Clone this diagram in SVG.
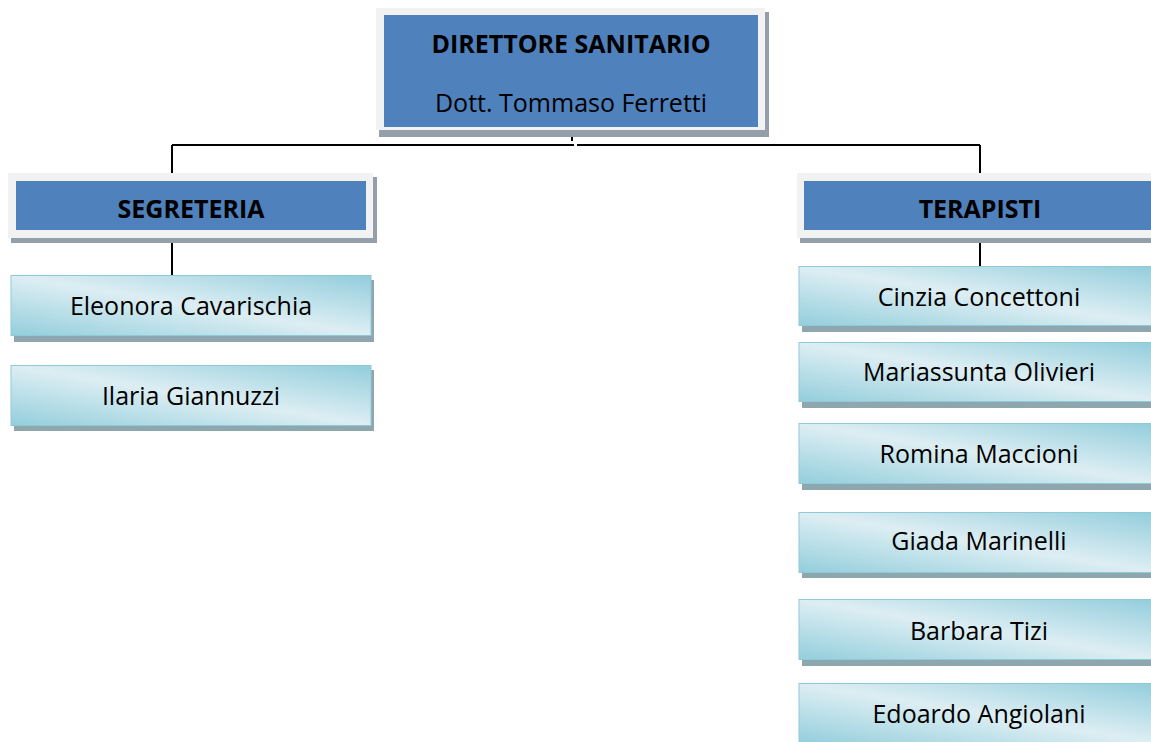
<svg xmlns="http://www.w3.org/2000/svg" width="1151" height="742" viewBox="0 0 1151 742">
<defs>
<linearGradient id="lg" x1="0" y1="1" x2="1" y2="0" gradientUnits="objectBoundingBox">
<stop offset="0" stop-color="#93cedc"/>
<stop offset="0.5" stop-color="#ddeef3"/>
<stop offset="1" stop-color="#92cddc"/>
</linearGradient>
</defs>
<style>
.frame{fill:#f2f2f2}
.hshadow{fill:#959fab}
.blue{fill:#4f81bd}
.lshadow{fill:#8ea6ae}
.lbox{fill:url(#lg);stroke:#8fcad9;stroke-width:1}
.t{font-family:"Open Sans","Noto Sans","Liberation Sans",sans-serif;font-size:25px;fill:#000;text-anchor:middle}
.b{font-weight:bold}
.conn{stroke:#000;stroke-width:2;fill:none}
</style>
<rect width="1151" height="742" fill="#fff"/>
<g id="connectors">
<path class="conn" d="M172 145 H574 M577 145 H980"/>
<path class="conn" d="M572 131 V141"/>
<path class="conn" d="M172 145 V173"/>
<path class="conn" d="M980 145 V173"/>
<path class="conn" d="M172 238 V276"/>
<path class="conn" d="M980 238 V266"/>
</g>
<g id="direttore">
<rect class="hshadow" x="379" y="12" width="390" height="125"/>
<rect class="frame" x="376" y="8" width="389" height="122"/>
<rect class="blue" x="384" y="15" width="374" height="112"/>
<text class="t b" x="571" y="53">DIRETTORE SANITARIO</text>
<text class="t" x="571" y="112">Dott. Tommaso Ferretti</text>
</g>
<g id="segreteria">
<rect class="hshadow" x="11" y="177" width="366" height="66"/>
<rect class="frame" x="8" y="173" width="365" height="65"/>
<rect class="blue" x="16" y="181" width="350" height="49"/>
<text class="t b" x="191" y="218">SEGRETERIA</text>
</g>
<g id="terapisti">
<rect class="hshadow" x="800" y="177" width="360" height="66"/>
<rect class="frame" x="797" y="173" width="360" height="65"/>
<rect class="blue" x="804" y="181" width="360" height="49"/>
<text class="t b" x="980" y="218">TERAPISTI</text>
</g>
<g id="eleonora">
<rect class="lshadow" x="14" y="280" width="360" height="62"/>
<rect class="lbox" x="11" y="275.5" width="360" height="60"/>
<text class="t" x="191" y="315">Eleonora Cavarischia</text>
</g>
<g id="ilaria">
<rect class="lshadow" x="14" y="370" width="360" height="61"/>
<rect class="lbox" x="11" y="365.5" width="360" height="60"/>
<text class="t" x="191" y="405">Ilaria Giannuzzi</text>
</g>
<g id="cinzia">
<rect class="lshadow" x="802" y="271" width="360" height="61"/>
<rect class="lbox" x="799" y="266.5" width="360" height="59"/>
<text class="t" x="979" y="306">Cinzia Concettoni</text>
</g>
<g id="mariassunta">
<rect class="lshadow" x="802" y="347" width="360" height="61"/>
<rect class="lbox" x="799" y="342.5" width="360" height="59"/>
<text class="t" x="979" y="381">Mariassunta Olivieri</text>
</g>
<g id="romina">
<rect class="lshadow" x="802" y="428" width="360" height="62"/>
<rect class="lbox" x="799" y="423.5" width="360" height="60"/>
<text class="t" x="979" y="463">Romina Maccioni</text>
</g>
<g id="giada">
<rect class="lshadow" x="802" y="517" width="360" height="61"/>
<rect class="lbox" x="799" y="512.5" width="360" height="60"/>
<text class="t" x="979" y="550">Giada Marinelli</text>
</g>
<g id="barbara">
<rect class="lshadow" x="802" y="604" width="360" height="62"/>
<rect class="lbox" x="799" y="599.5" width="360" height="60"/>
<text class="t" x="979" y="640">Barbara Tizi</text>
</g>
<g id="edoardo">
<rect class="lshadow" x="802" y="688" width="360" height="62"/>
<rect class="lbox" x="799" y="683.5" width="360" height="60"/>
<text class="t" x="979" y="723">Edoardo Angiolani</text>
</g>
</svg>
